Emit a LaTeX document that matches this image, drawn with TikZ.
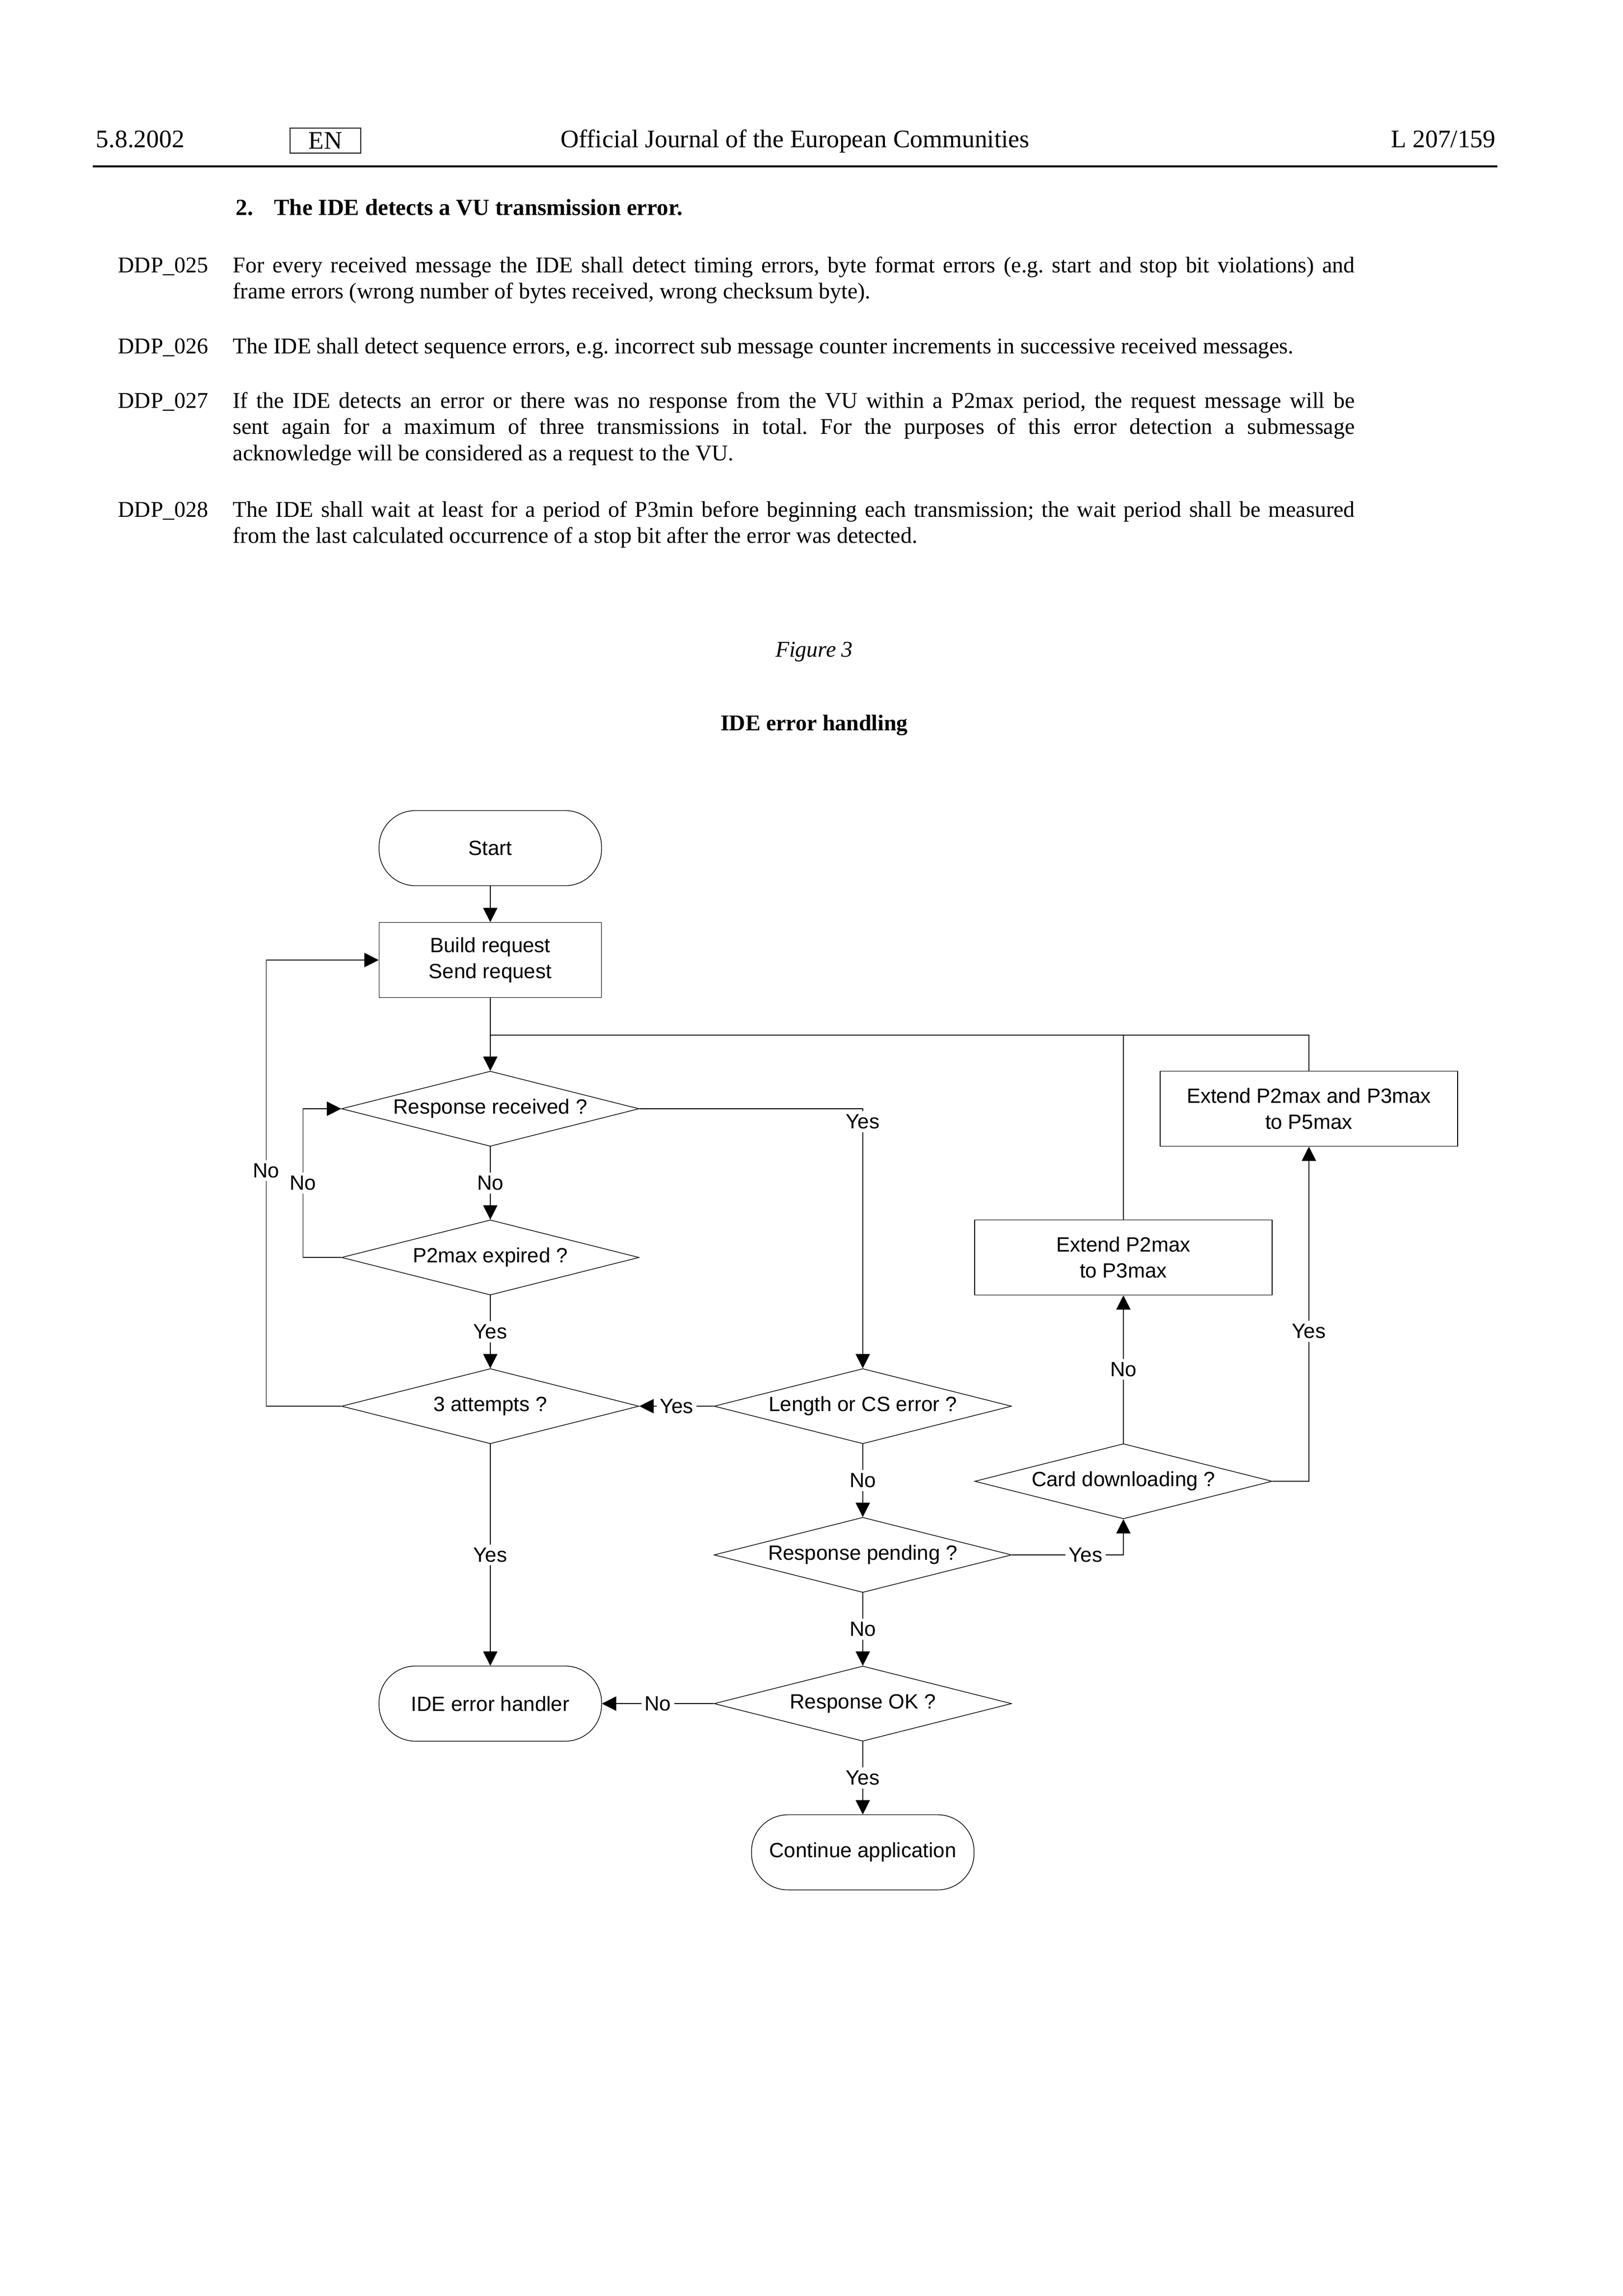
\documentclass[tikz,border=0pt]{standalone}
\usepackage{fontspec}
\setmainfont{Liberation Serif}
\newfontfamily\chartfont{Liberation Sans}
\usetikzlibrary{arrows.meta,shapes.geometric}
\frenchspacing

\begin{document}
\begin{tikzpicture}[x=0.190563mm,y=-0.190563mm,line width=0.25pt]
    %
    % `terminal' is used for start and end (rounded boxes).
    % `process' and `wideproc' are the plain boxes.
    % `decision' is used for the question diamonds.
    % `lbl' is used for the Yes/No marks sitting on the lines.
    \tikzstyle{chart} = [font=\chartfont\fontsize{7.6}{9.6}\selectfont]
    \tikzstyle{terminal} = [chart,draw,minimum width=28.8mm,minimum height=9.72mm,rounded corners=4.7mm]
    \tikzstyle{process} = [chart,draw,minimum width=28.8mm,minimum height=9.72mm,align=center]
    \tikzstyle{wideproc} = [process,minimum width=38.5mm]
    \tikzstyle{decision} = [chart,draw,diamond,aspect=4,minimum width=38.5mm,minimum height=9.72mm,inner sep=0pt]
    \tikzstyle{lbl} = [chart,fill=white,inner sep=1.2pt]
    \tikzstyle{arrow} = [-{Triangle[length=1.85mm,width=1.85mm]}]
    \tikzstyle{head} = [anchor=base west,inner sep=0pt,font=\fontsize{9.3}{11}\selectfont]
    \tikzstyle{para} = [anchor=base west,inner sep=0pt,text width=145.2mm,align=justify,font=\fontsize{8.3}{9.7}\selectfont]
    \tikzstyle{tag} = [anchor=base west,inner sep=0pt,font=\fontsize{8.3}{9.7}\selectfont]
    %
    \useasboundingbox (0,0) rectangle (1102,1559.33);
    %
    % Page head
    \node[head] (date) at (65,100) {5.8.2002};
    \node[draw,line width=0.5pt,minimum width=9.15mm,minimum height=3.24mm,inner sep=0pt,font=\fontsize{9.3}{11}\selectfont] (en) at (221,95.5) {EN};
    \node[head,anchor=base] (journal) at (540,100) {Official Journal of the European Communities};
    \node[head,anchor=base east] (page) at (1016,100) {L 207/159};
    \draw[line width=0.6pt] (63,113) -- (1017,113);
    %
    % Text
    \node[tag,font=\bfseries\fontsize{8.5}{10}\selectfont] (sec) at (160,146) {\makebox[4.95mm][l]{2.}The IDE detects a VU transmission error.};
    \node[tag] (t25) at (80,185) {DDP\_025};
    \node[para] (p25) at (158,185) {For every received message the IDE shall detect timing errors, byte format errors (e.g. start and stop bit violations) and\linebreak frame errors (wrong number of bytes received, wrong checksum byte).};
    \node[tag] (t26) at (80,240) {DDP\_026};
    \node[para] (p26) at (158,240) {The IDE shall detect sequence errors, e.g. incorrect sub message counter increments in successive received messages.};
    \node[tag] (t27) at (80,277) {DDP\_027};
    \node[para] (p27) at (158,277) {If the IDE detects an error or there was no response from the VU within a P2max period, the request message will be\linebreak sent again for a maximum of three transmissions in total. For the purposes of this error detection a submessage\linebreak acknowledge will be considered as a request to the VU.};
    \node[tag] (t28) at (80,351) {DDP\_028};
    \node[para] (p28) at (158,351) {The IDE shall wait at least for a period of P3min before beginning each transmission; the wait period shall be measured\linebreak from the last calculated occurrence of a stop bit after the error was detected.};
    \node[tag,anchor=base,font=\itshape\fontsize{8.3}{9.7}\selectfont] (fig) at (553,446) {Figure 3};
    \node[tag,anchor=base,font=\bfseries\fontsize{8.3}{9.7}\selectfont] (figtitle) at (553,496) {IDE error handling};
    %
    % Column 1
    \node[terminal] (start) at (333,576) {Start};
    \node[process] (build) at (333,652) {Build request\\Send request};
    \node[decision] (rr) at (333,753) {Response received ?};
    \node[decision] (p2) at (333,854) {P2max expired ?};
    \node[decision] (att) at (333,955) {3 attempts ?};
    \node[terminal] (err) at (333,1157) {IDE error handler};
    %
    % Column 2
    \node[decision] (len) at (586,955) {Length or CS error ?};
    \node[decision] (pend) at (586,1056) {Response pending ?};
    \node[decision] (ok) at (586,1157) {Response OK ?};
    \node[terminal] (cont) at (586,1258) {Continue application};
    %
    % Column 3 and 4
    \node[decision] (card) at (763,1006) {Card downloading ?};
    \node[wideproc] (ext3) at (763,854) {Extend P2max\\to P3max};
    \node[wideproc] (ext5) at (889,753) {Extend P2max and P3max\\to P5max};
    \coordinate (join) at (333,703);
    %
    % Lines
    \draw[arrow] (start) -- (build);
    \draw[arrow] (build) -- (rr);
    \draw (ext3.north) |- (join);
    \draw (ext5.north) |- (join);
    \draw[arrow] (rr.south) -- node[lbl] {No} (p2.north);
    \draw[arrow] (p2.west) -- ++(-26,0) |- node[lbl,pos=0.25] {No} (rr.west);
    \draw[arrow] (att.west) -- ++(-51,0) |- node[lbl,pos=0.264] {No} (build.west);
    \draw[arrow] (p2.south) -- node[lbl] {Yes} (att.north);
    \draw[arrow] (rr.east) -| node[lbl,pos=0.525] {Yes} (len.north);
    \draw[arrow] (len.west) -- node[lbl] {Yes} (att.east);
    \draw[arrow] (len.south) -- node[lbl] {No} (pend.north);
    \draw[arrow] (pend.east) -| node[lbl,pos=0.33] {Yes} (card.south);
    \draw[arrow] (card.north) -- node[lbl] {No} (ext3.south);
    \draw[arrow] (card.east) -| node[lbl,pos=0.724] {Yes} (ext5.south);
    \draw[arrow] (att.south) -- node[lbl] {Yes} (err.north);
    \draw[arrow] (pend.south) -- node[lbl] {No} (ok.north);
    \draw[arrow] (ok.west) -- node[lbl] {No} (err.east);
    \draw[arrow] (ok.south) -- node[lbl] {Yes} (cont.north);
    %
\end{tikzpicture}
\end{document}
